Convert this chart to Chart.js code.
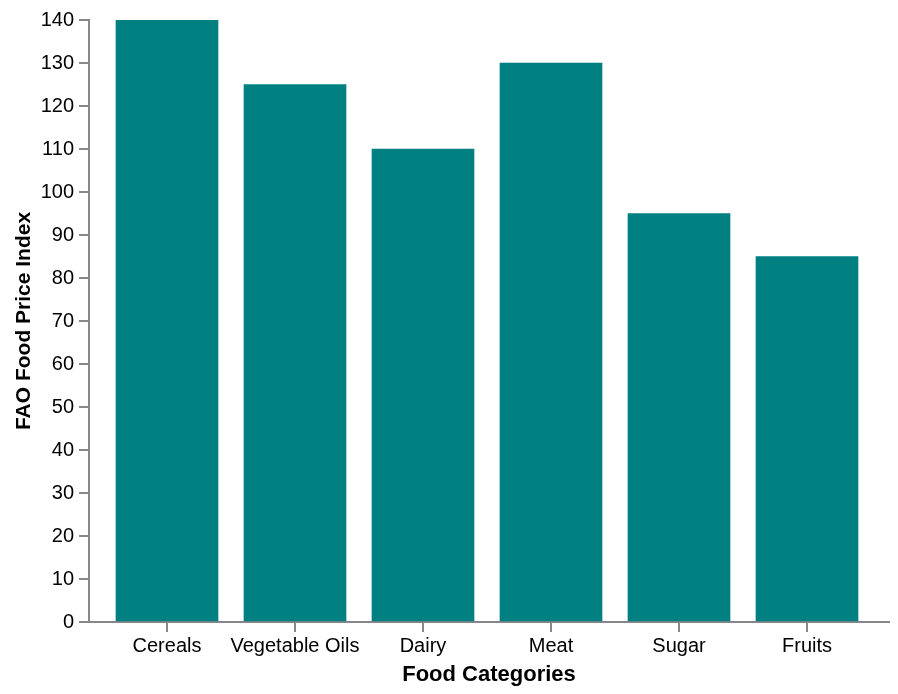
<!DOCTYPE html>
<html>
<head>
<meta charset="utf-8">
<script src="https://cdn.jsdelivr.net/npm/chart.js@4"></script>
<style>
  body { margin: 0; background: #fff; }
  #wrap { width: 898px; height: 694px; }
</style>
</head>
<body>
<div id="wrap"><canvas id="fpiChart" width="898" height="694"></canvas></div>
<script>
const categories = ["Cereals", "Vegetable Oils", "Dairy", "Meat", "Sugar", "Fruits"];
const priceIndex = [140, 125, 110, 130, 95, 85];
const yTicks = [0, 10, 20, 30, 40, 50, 60, 70, 80, 90, 100, 110, 120, 130, 140];

const font = "'Liberation Sans', Arial, Helvetica, sans-serif";
const axisGrey = "#888888";

const ctx = document.getElementById("fpiChart").getContext("2d");

new Chart(ctx, {
  type: "bar",
  data: {
    labels: categories,
    datasets: [
      {
        label: "FAO Food Price Index",
        data: priceIndex,
        backgroundColor: "#008080",
        borderWidth: 0,
        barThickness: 102,
      },
    ],
  },
  options: {
    responsive: false,
    animation: false,
    layout: { padding: { left: 12, top: 20, right: 9, bottom: 6 } },
    plugins: {
      legend: { display: false },
      tooltip: { enabled: false },
    },
    scales: {
      x: {
        offset: true,
        grid: {
          offset: false,
          drawOnChartArea: false,
          color: axisGrey,
          lineWidth: 2,
          tickLength: 10,
        },
        border: { color: axisGrey, width: 2 },
        ticks: { color: "#000", font: { family: font, size: 20 }, padding: 2, maxRotation: 0 },
        title: {
          display: true,
          text: "Food Categories",
          color: "#000",
          font: { family: font, size: 22, weight: "bold" },
          padding: 0,
        },
        // band padding like the original: a bit of space before the first and after the last band
        afterBuildTicks: function (scale) {
          scale._startValue = -0.5 - 14 / 128;
          scale._valueRange = 800 / 128;
        },
        afterFit: function (scale) {
          scale.height = 66;
        },
      },
      y: {
        min: 0,
        max: 140,
        afterBuildTicks: function (scale) {
          scale.ticks = yTicks.map((v) => ({ value: v }));
        },
        grid: {
          drawOnChartArea: false,
          color: axisGrey,
          lineWidth: 2,
          tickLength: 10,
        },
        border: { color: axisGrey, width: 2 },
        ticks: { color: "#000", font: { family: font, size: 20 }, padding: 5 },
        title: {
          display: true,
          text: "FAO Food Price Index",
          color: "#000",
          font: { family: font, size: 21, weight: "bold" },
          padding: 0,
        },
        afterFit: function (scale) {
          scale.width = 77;
        },
      },
    },
  },
});
</script>
</body>
</html>
